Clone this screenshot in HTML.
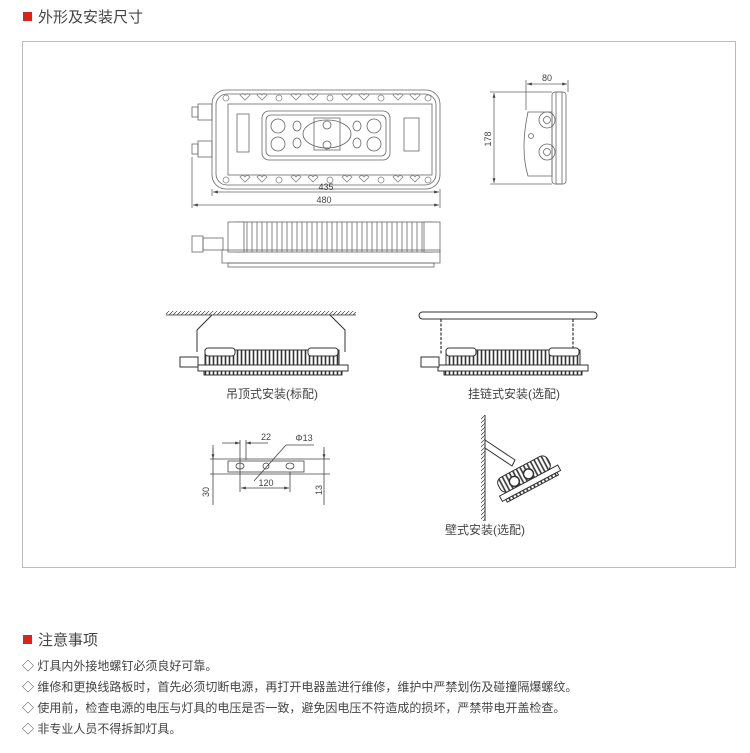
<!DOCTYPE html>
<html><head><meta charset="utf-8"><style>
html,body{margin:0;padding:0;background:#fff;}
svg{display:block;}
text{font-family:"Liberation Sans","Noto Sans CJK SC",sans-serif;fill:#444;}
</style></head><body>
<svg width="750" height="753" viewBox="0 0 750 753" xmlns="http://www.w3.org/2000/svg">
<defs>
<pattern id="fin" width="4" height="10" patternUnits="userSpaceOnUse"><rect width="4" height="10" fill="#fff"/><line x1="1.5" y1="0" x2="1.5" y2="10" stroke="#333" stroke-width="1.6"/></pattern>
<pattern id="finl" width="5" height="10" patternUnits="userSpaceOnUse"><rect width="5" height="10" fill="#fff"/><line x1="2" y1="0" x2="2" y2="10" stroke="#888" stroke-width="1"/></pattern>
<pattern id="hatch" width="4" height="4" patternUnits="userSpaceOnUse"><line x1="0" y1="4" x2="4" y2="0" stroke="#555" stroke-width="0.8"/></pattern>
<marker id="ar" viewBox="0 0 10 10" refX="10" refY="5" markerWidth="6" markerHeight="6" orient="auto-start-reverse"><path d="M0,2 L10,5 L0,8 z" fill="#444"/></marker>
</defs>

<!-- title -->
<rect x="23" y="12" width="9" height="9" fill="#d9231c"/>
<text x="38" y="22" font-size="15" fill="#333">外形及安装尺寸</text>
<rect x="22.5" y="41.5" width="713" height="526" fill="none" stroke="#bbb"/>

<g fill="none" stroke="#666" stroke-width="0.8">
<!-- top view -->
<rect x="212" y="90" width="228" height="99" rx="14"/>
<rect x="216" y="94" width="220" height="91" rx="11"/>
<rect x="228" y="104" width="204" height="71"/>
<rect x="262" y="111" width="128" height="49" rx="7"/>
<rect x="266" y="115" width="120" height="41" rx="5"/>
<rect x="237" y="114" width="12" height="38"/>
<rect x="404" y="118" width="15" height="33"/>
<ellipse cx="327" cy="134" rx="24" ry="14"/>
<rect x="314" y="118" width="26" height="32"/>
<circle cx="278" cy="126" r="7"/><circle cx="278" cy="144" r="7"/>
<circle cx="374" cy="126" r="7"/><circle cx="374" cy="144" r="7"/>
<circle cx="327" cy="125" r="4"/><circle cx="327" cy="145" r="4"/>
<ellipse cx="297" cy="126" rx="4" ry="5"/><ellipse cx="297" cy="143" rx="4" ry="5"/>
<ellipse cx="357" cy="126" rx="4" ry="5"/><ellipse cx="357" cy="143" rx="4" ry="5"/>
<!-- glands -->
<rect x="198" y="104" width="14" height="16"/><rect x="192" y="107" width="6" height="10"/>
<rect x="198" y="141" width="14" height="16"/><rect x="192" y="144" width="6" height="10"/>
<!-- hearts -->
<g stroke="#888">
<circle cx="226" cy="98" r="3"/><circle cx="428" cy="98" r="3"/><circle cx="226" cy="180" r="3"/><circle cx="428" cy="180" r="3"/>
<path d="M240,95 q3,-3 5,0 q2,-3 5,0 l-5,5z M257,95 q3,-3 5,0 q2,-3 5,0 l-5,5z M291,95 q3,-3 5,0 q2,-3 5,0 l-5,5z M308,95 q3,-3 5,0 q2,-3 5,0 l-5,5z M342,95 q3,-3 5,0 q2,-3 5,0 l-5,5z M359,95 q3,-3 5,0 q2,-3 5,0 l-5,5z M393,95 q3,-3 5,0 q2,-3 5,0 l-5,5z M410,95 q3,-3 5,0 q2,-3 5,0 l-5,5z"/>
<path d="M240,177 q3,-3 5,0 q2,-3 5,0 l-5,5z M257,177 q3,-3 5,0 q2,-3 5,0 l-5,5z M291,177 q3,-3 5,0 q2,-3 5,0 l-5,5z M308,177 q3,-3 5,0 q2,-3 5,0 l-5,5z M342,177 q3,-3 5,0 q2,-3 5,0 l-5,5z M359,177 q3,-3 5,0 q2,-3 5,0 l-5,5z M393,177 q3,-3 5,0 q2,-3 5,0 l-5,5z M410,177 q3,-3 5,0 q2,-3 5,0 l-5,5z"/>
<circle cx="279" cy="98" r="3"/><circle cx="330" cy="98" r="3"/><circle cx="381" cy="98" r="3"/>
<circle cx="279" cy="180" r="3"/><circle cx="330" cy="180" r="3"/><circle cx="381" cy="180" r="3"/>
</g>
<!-- dims -->
<line x1="212" y1="189" x2="212" y2="196"/><line x1="440" y1="189" x2="440" y2="208"/><line x1="192" y1="157" x2="192" y2="208"/>
<line x1="213" y1="192" x2="439" y2="192" marker-start="url(#ar)" marker-end="url(#ar)"/>
<line x1="193" y1="205" x2="439" y2="205" marker-start="url(#ar)" marker-end="url(#ar)"/>
<!-- side view -->
<rect x="236" y="222" width="196" height="30" fill="url(#finl)" stroke="#666"/>
<rect x="228" y="222" width="16" height="30" fill="#fff"/><rect x="424" y="222" width="16" height="30" fill="#fff"/>
<rect x="222" y="250" width="218" height="13"/><rect x="228" y="263" width="206" height="4"/>
<rect x="203" y="238" width="20" height="12"/><rect x="192" y="236" width="11" height="16"/>
<!-- right view -->
<path d="M528,112 L552,112 L552,176 L528,176 Q520,150 528,112z"/>
<rect x="552" y="92" width="14" height="92" rx="3"/><rect x="556" y="92" width="6" height="92"/>
<circle cx="547" cy="120" r="8"/><circle cx="547" cy="120" r="3.5"/>
<circle cx="547" cy="152" r="8"/><circle cx="547" cy="152" r="3.5"/>
<circle cx="531" cy="136" r="2.5"/>
<line x1="490" y1="92" x2="552" y2="92"/><line x1="490" y1="184" x2="552" y2="184"/>
<line x1="494" y1="93" x2="494" y2="183" marker-start="url(#ar)" marker-end="url(#ar)"/>
<line x1="526" y1="80" x2="526" y2="110"/><line x1="568" y1="80" x2="568" y2="92"/>
<line x1="527" y1="84" x2="567" y2="84" marker-start="url(#ar)" marker-end="url(#ar)"/>
</g>
<g font-size="9" fill="#555">
<text x="326" y="190" text-anchor="middle">435</text>
<text x="324" y="203" text-anchor="middle">480</text>
<text x="547" y="81" text-anchor="middle">80</text>
<text x="491" y="139" text-anchor="middle" transform="rotate(-90 491 139)">178</text>
</g>

<!-- ceiling mount -->
<rect x="166" y="311" width="190" height="4" fill="url(#hatch)"/>
<line x1="166" y1="315" x2="356" y2="315" stroke="#333" stroke-width="0.8"/>
<path d="M212,315 L197,330 L197,352 M330,315 L345,330 L345,352" fill="none" stroke="#333" stroke-width="1"/>
<rect x="205" y="350" width="134" height="16" fill="url(#fin)" stroke="#333"/>
<rect x="205" y="348" width="30" height="8" rx="3" fill="#fff" stroke="#333"/><rect x="308" y="348" width="30" height="8" rx="3" fill="#fff" stroke="#333"/>
<rect x="198" y="365" width="150" height="6" fill="#fff" stroke="#333"/><rect x="204" y="371" width="138" height="4" fill="url(#fin)" stroke="#333"/>
<rect x="180" y="357" width="18" height="10" fill="#fff" stroke="#333"/>
<text x="272" y="398" font-size="12" text-anchor="middle">吊顶式安装(标配)</text>

<!-- chain mount -->
<rect x="419" y="312" width="178" height="7" rx="3.5" fill="#fff" stroke="#333"/>
<path d="M441,319 v36 M573,319 v36" stroke="#333" stroke-width="1.2" stroke-dasharray="3,1.5"/>
<rect x="446" y="350" width="134" height="16" fill="url(#fin)" stroke="#333"/>
<rect x="446" y="348" width="30" height="8" rx="3" fill="#fff" stroke="#333"/><rect x="549" y="348" width="30" height="8" rx="3" fill="#fff" stroke="#333"/>
<rect x="438" y="365" width="150" height="6" fill="#fff" stroke="#333"/><rect x="444" y="371" width="138" height="4" fill="url(#fin)" stroke="#333"/>
<rect x="421" y="357" width="18" height="10" fill="#fff" stroke="#333"/>
<text x="514" y="398" font-size="12" text-anchor="middle">挂链式安装(选配)</text>

<!-- bracket -->
<g fill="none" stroke="#444" stroke-width="0.8">
<rect x="228" y="461" width="76" height="11"/>
<ellipse cx="240" cy="466" rx="4" ry="3"/><ellipse cx="266" cy="466" rx="3" ry="3"/><ellipse cx="290" cy="466" rx="4" ry="3"/>
<line x1="210" y1="459" x2="330" y2="459"/><line x1="210" y1="474" x2="330" y2="474"/>
<line x1="213" y1="445" x2="213" y2="505"/><line x1="240" y1="440" x2="240" y2="492"/><line x1="246" y1="440" x2="246" y2="460"/><line x1="290" y1="472" x2="290" y2="492"/>
<line x1="324" y1="447" x2="324" y2="505"/>
<line x1="222" y1="443" x2="240" y2="443" marker-end="url(#ar)"/><line x1="246" y1="443" x2="268" y2="443" marker-start="url(#ar)"/>
<line x1="241" y1="488" x2="289" y2="488" marker-start="url(#ar)" marker-end="url(#ar)"/>
<line x1="254" y1="481" x2="286" y2="445"/><line x1="286" y1="445" x2="314" y2="445"/>
<line x1="213" y1="448" x2="213" y2="459" marker-end="url(#ar)"/><line x1="324" y1="450" x2="324" y2="459" marker-end="url(#ar)"/>
</g>
<g font-size="9" fill="#555">
<text x="266" y="440" text-anchor="middle">22</text>
<text x="304" y="441" text-anchor="middle">Φ13</text>
<text x="266" y="486" text-anchor="middle">120</text>
<text x="209" y="492" text-anchor="middle" transform="rotate(-90 209 492)">30</text>
<text x="322" y="490" text-anchor="middle" transform="rotate(-90 322 490)">13</text>
</g>

<!-- wall mount -->
<rect x="481" y="415" width="4" height="106" fill="url(#hatch)"/>
<line x1="485" y1="415" x2="485" y2="521" stroke="#333"/>
<path d="M485,440 L515,460 L512,466 L485,448z" fill="#fff" stroke="#333"/>
<g transform="rotate(-28 525 478)">
<rect x="498" y="466" width="56" height="16" rx="6" fill="url(#fin)" stroke="#333"/>
<rect x="494" y="482" width="66" height="6" fill="#fff" stroke="#333"/>
<rect x="498" y="488" width="58" height="3" fill="url(#fin)" stroke="#333"/>
<circle cx="514" cy="476" r="5" fill="#fff" stroke="#333" stroke-width="1.5"/><circle cx="530" cy="476" r="5" fill="#fff" stroke="#333" stroke-width="1.5"/>
</g>
<text x="485" y="534" font-size="12" text-anchor="middle">壁式安装(选配)</text>

<!-- notes -->
<rect x="23" y="635" width="9" height="9" fill="#d9231c"/>
<text x="38" y="645" font-size="15" fill="#333">注意事项</text>
<g font-size="12" fill="#444">
<text x="22" y="670">◇ 灯具内外接地螺钉必须良好可靠。</text>
<text x="22" y="691">◇ 维修和更换线路板时，首先必须切断电源，再打开电器盖进行维修，维护中严禁划伤及碰撞隔爆螺纹。</text>
<text x="22" y="712">◇ 使用前，检查电源的电压与灯具的电压是否一致，避免因电压不符造成的损坏，严禁带电开盖检查。</text>
<text x="22" y="733">◇ 非专业人员不得拆卸灯具。</text>
</g>
</svg>
</body></html>
